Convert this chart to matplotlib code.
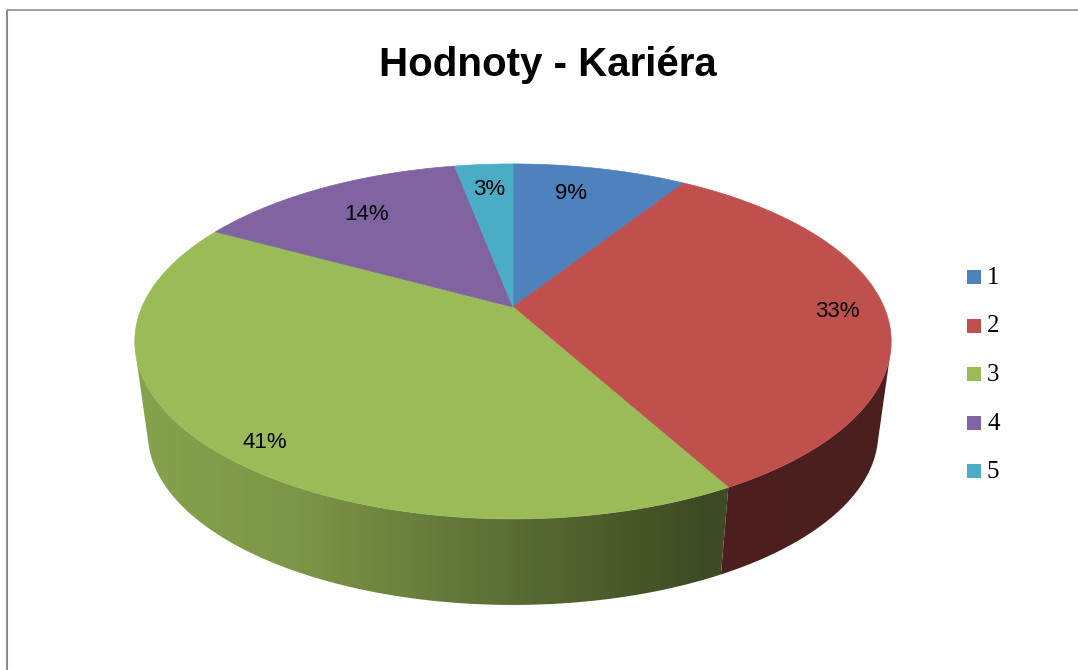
import numpy as np
import matplotlib.pyplot as plt
from matplotlib.colors import to_rgb
from matplotlib.patches import Polygon, Rectangle

# data
kategorie = ['1', '2', '3', '4', '5']
hodnoty = [9, 33, 41, 14, 3]
popisky = ['9%', '33%', '41%', '14%', '3%']
barvy = ['#4F81BD', '#C0504D', '#9BBB59', '#8064A2', '#4BACC6']
titulek = 'Hodnoty - Kariéra'

W, H = 1078, 670
fig = plt.figure(figsize=(W / 100, H / 100), dpi=100)
ax = fig.add_axes([0, 0, 1, 1])

# perspektiva kruhu (horni plocha)
cx, cy = 513, 307
A, B, k = 371, 170.8, 0.194
vy, s = 3020, 0.9656  # dolni plocha = zmenseni k bodu dole
xl, xr = 134, 891


def proj(th, r=1.0):
    x = r * np.sin(th)
    z = -r * np.cos(th)
    d = 1 - k * z
    return cx + A * x / d, cy + B * z / d


def dolni(X, Y):
    return cx + s * (X - cx), vy + s * (Y - vy)


podily = np.array(hodnoty, dtype=float) / sum(hodnoty)
hranice = np.concatenate([[0], np.cumsum(podily)]) * 2 * np.pi

# viditelna cast boku (obrys)
th_all = np.linspace(0, 2 * np.pi, 7201)
Xa, Ya = proj(th_all)
cross = (Xa - cx) * np.gradient(Ya) - (Ya - vy) * np.gradient(Xa)
vis = th_all[cross < 0]
lo, hi = vis.min(), vis.max()

# stin boku podle polohy zleva doprava
u = np.linspace(0, 1, 300)
f = np.interp(u, [0, 0.22, 0.54, 0.75, 1], [0.87, 0.80, 0.55, 0.40, 0.39])

for i in range(len(hodnoty)):
    a, b = max(hranice[i], lo), min(hranice[i + 1], hi)
    if b <= a:
        continue
    th = np.linspace(a, b, 200)
    X, Y = proj(th)
    X2, Y2 = dolni(X, Y)
    pts = list(zip(X, Y)) + list(zip(X2[::-1], Y2[::-1]))
    okraj = Polygon(pts, closed=True, facecolor='none', edgecolor='none', transform=ax.transData)
    ax.add_patch(okraj)
    img = np.array(to_rgb(barvy[i]))[None, None, :] * f[None, :, None]
    im = ax.imshow(img, extent=(xl - 2, xr + 2, 650, 150), aspect='auto',
                   interpolation='bilinear', zorder=1)
    im.set_clip_path(okraj)

# horni plocha
for i in range(len(hodnoty)):
    th = np.linspace(hranice[i], hranice[i + 1], 200)
    X, Y = proj(th)
    pts = [(cx, cy)] + list(zip(X, Y))
    ax.add_patch(Polygon(pts, closed=True, facecolor=barvy[i], edgecolor=barvy[i],
                         lw=0.5, zorder=2))

# popisky (polomer a posun uhlu)
r_popisku = [0.78, 0.87, 0.9, 0.75, 0.8]
posun = [-3, 0, -5, 0, 0]
for i in range(len(hodnoty)):
    mid = (hranice[i] + hranice[i + 1]) / 2 + np.radians(posun[i])
    X, Y = proj(mid, r_popisku[i])
    ax.text(X, Y, popisky[i], ha='center', va='center', fontsize=16,
            family='Liberation Sans', color='black', zorder=3)

# titulek
ax.text(548, 76, titulek, ha='center', va='baseline', fontsize=29,
        weight='bold', family='Liberation Sans')

# legenda
for i, kat in enumerate(kategorie):
    y = 277 + i * 48.5
    ax.add_patch(Rectangle((967, y - 7), 14, 14, facecolor=barvy[i], edgecolor='none'))
    ax.text(987, y + 1, kat, ha='left', va='center', fontsize=18, family='Liberation Serif')

# ramecek
ax.plot([7, 7], [H, 10], color='#8c8c8c', lw=1.5, solid_capstyle='butt')
ax.plot([7, W], [10, 10], color='#8c8c8c', lw=1.2, solid_capstyle='butt')

ax.set_xlim(0, W)
ax.set_ylim(H, 0)
ax.axis('off')

fig.savefig('out.png', dpi=100)
